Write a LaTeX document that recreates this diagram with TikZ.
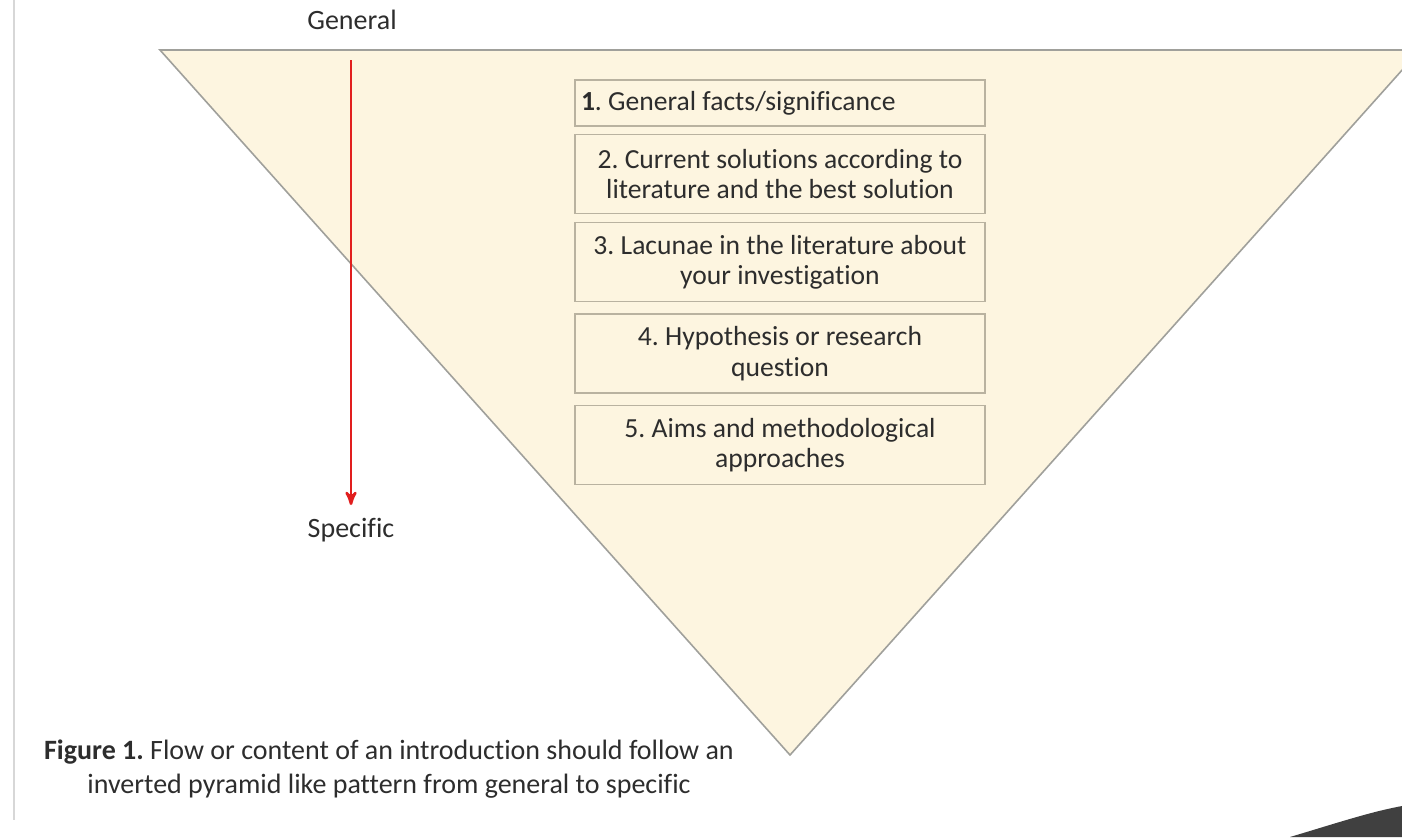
\documentclass[tikz,border=0pt]{standalone}
\usepackage{fontspec}
\setmainfont{Carlito}[Ligatures=NoCommon]
\usetikzlibrary{arrows}
\definecolor{pyr_fill}{RGB}{253,245,224}
\definecolor{pyr_edge}{RGB}{160,160,155}
\definecolor{box_edge}{RGB}{185,178,160}
\definecolor{text_gray}{RGB}{45,45,45}
\definecolor{arrow_red}{RGB}{225,30,30}
\definecolor{page_gray}{RGB}{215,215,215}

\begin{document}
\frenchspacing
\begin{tikzpicture}[x=0.5pt,y=-0.5pt,>=stealth',semithick]
    \tikzstyle{box}=[draw=box_edge, line width=0.9pt, fill=pyr_fill, text=text_gray, minimum width=205pt, minimum height=39.5pt, align=center, inner sep=2pt, font=\fontsize{13.8}{15.2}\selectfont]
    \tikzstyle{lbl}=[text=text_gray, font=\fontsize{14}{16}\selectfont]

    \useasboundingbox (0,0) rectangle (1402,837);
    \draw[page_gray, line width=1pt] (14,0) -- (14,820);
    \path[fill=pyr_fill, draw=pyr_edge, line width=0.8pt] (160,50) -- (1420,50) -- (790,755) -- cycle;

    \node[lbl] (gen)  at (352,20)  {General};
    \node[lbl] (spec) at (351,530) {Specific};
    \coordinate (top) at (351,60);
    \coordinate (bot) at (351,505);

    \node[box, minimum height=23pt] (b1) at (780,103) {\makebox[199pt][l]{\textbf{1}. General facts/significance}};
    \node[box] (b2) at (780,174) {2. Current solutions according to\\literature and the best solution};
    \node[box] (b3) at (780,262) {3. Lacunae in the literature about\\your investigation};
    \node[box] (b4) at (780,353.5) {4. Hypothesis or research\\question};
    \node[box] (b5) at (780,445) {5. Aims and methodological\\approaches};

    \node[text=text_gray, align=center, font=\fontsize{14}{17}\selectfont] (cap) at (389,769)
      {\textbf{Figure 1.} Flow or content of an introduction should follow an\\inverted pyramid like pattern from general to specific};

    \fill[black!75] (1290,837) .. controls (1340,822) and (1370,812) .. (1402,806) -- (1402,837) -- cycle;

    \path
     (top) edge[arrow_red, line width=1.3pt, ->] (bot)
     ;
\end{tikzpicture}
\end{document}
